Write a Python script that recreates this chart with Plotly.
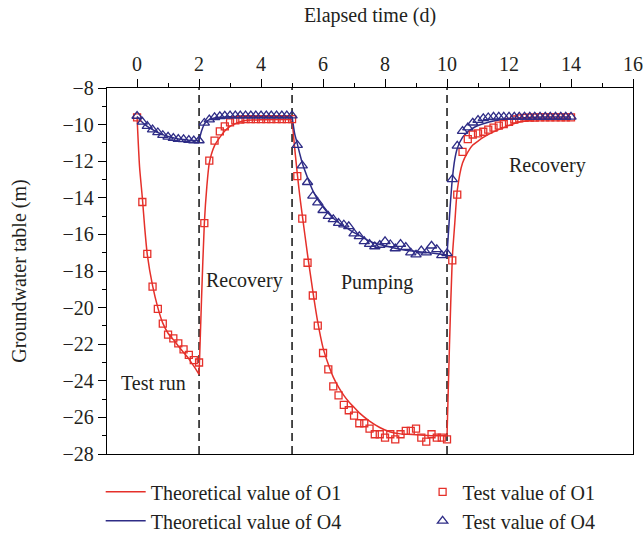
import plotly.graph_objects as go

# ---------------- data ----------------
test_time = [0, 0.17, 0.33, 0.5, 0.67, 0.83, 1.0, 1.17, 1.33, 1.5, 1.67, 1.83, 2.0,
             2.17, 2.33, 2.5, 2.67, 2.83, 3.0, 3.17, 3.33, 3.5, 3.67, 3.83, 4.0, 4.17, 4.33, 4.5, 4.67, 4.83, 5.0,
             5.17, 5.33, 5.5, 5.67, 5.83, 6.0, 6.17, 6.33, 6.5, 6.67, 6.83, 7.0, 7.17, 7.33, 7.5, 7.67, 7.83,
             8.0, 8.17, 8.33, 8.5, 8.67, 8.83, 9.0, 9.17, 9.33, 9.5, 9.67, 9.83, 10.0,
             10.17, 10.33, 10.5, 10.67, 10.83, 11.0, 11.17, 11.33, 11.5, 11.67, 11.83, 12.0, 12.17, 12.33,
             12.5, 12.67, 12.83, 13.0, 13.17, 13.33, 13.5, 13.67, 13.83, 14.0]

test_o1 = [-9.6, -14.23, -17.06, -18.85, -20.07, -20.88, -21.48, -21.68, -21.95, -22.28, -22.58, -22.87, -23.0,
           -15.38, -11.97, -10.88, -10.37, -10.10, -9.88, -9.77, -9.72, -9.70, -9.70, -9.70, -9.70, -9.70,
           -9.70, -9.70, -9.70, -9.70, -9.70,
           -12.82, -15.14, -17.55, -19.34, -20.99, -22.48, -23.38, -24.31, -24.80, -25.32, -25.61, -25.90,
           -26.32, -26.32, -26.61, -26.92, -26.92, -27.1, -26.92, -27.2, -26.92, -26.74, -26.74, -26.61,
           -27.1, -27.32, -26.92, -27.1, -27.1, -27.2,
           -17.42, -13.83, -11.49, -10.79, -10.54, -10.48, -10.39, -10.28, -10.17, -10.06, -9.97, -9.85,
           -9.72, -9.66, -9.63, -9.62, -9.62, -9.61, -9.61, -9.6, -9.6, -9.6, -9.6, -9.6]

test_o4 = [-9.53, -9.85, -10.08, -10.27, -10.43, -10.58, -10.67, -10.74, -10.79, -10.81, -10.85, -10.87, -10.87,
           -9.91, -9.73, -9.6, -9.55, -9.52, -9.51, -9.51, -9.51, -9.51, -9.51, -9.51, -9.51, -9.51, -9.51,
           -9.51, -9.51, -9.51, -9.51,
           -11.12, -12.24, -13.15, -13.90, -14.26, -14.68, -15.0, -15.18, -15.38, -15.47, -15.56, -15.96,
           -16.11, -16.38, -16.53, -16.66, -16.58, -16.38, -16.55, -16.77, -16.53, -16.69, -17.0, -17.11,
           -16.89, -17.0, -16.62, -16.82, -17.15, -17.04,
           -12.99, -11.16, -10.36, -10.16, -9.9, -9.75, -9.66, -9.61, -9.58, -9.58, -9.58, -9.58, -9.58,
           -9.58, -9.58, -9.58, -9.58, -9.58, -9.58, -9.58, -9.58, -9.58, -9.58, -9.58]

theory_time = [0, 0.08, 0.17, 0.25, 0.33, 0.5, 0.67, 0.83, 1.0, 1.17, 1.33, 1.5, 1.67, 1.83, 2.0,
               2.08, 2.17, 2.25, 2.33, 2.5, 2.67, 2.83, 3.0, 3.17, 3.33, 3.5, 4.0, 4.5, 5.0,
               5.08, 5.17, 5.25, 5.33, 5.5, 5.67, 5.83, 6.0, 6.17, 6.33, 6.5, 6.67, 6.83, 7.0, 7.17,
               7.5, 7.83, 8.17, 8.5, 9.0, 9.5, 10.0,
               10.08, 10.17, 10.25, 10.33, 10.5, 10.67, 10.83, 11.0, 11.17, 11.5, 11.83, 12.17, 12.5,
               12.83, 13.33, 14.0]

theory_o1 = [-9.6, -12.3, -14.0, -15.7, -17.1, -18.8, -20.0, -20.85, -21.4, -21.75, -22.1, -22.45, -22.8, -23.2, -23.65,
             -19.5, -15.4, -13.4, -12.1, -11.15, -10.7, -10.35, -10.1, -9.95, -9.84, -9.78, -9.73, -9.72, -9.72,
             -11.2, -12.7, -13.9, -14.95, -17.1, -19.1, -20.8, -22.2, -23.1, -23.8, -24.35, -24.8, -25.15,
             -25.45, -25.75, -26.2, -26.55, -26.8, -26.9, -26.95, -27.0, -27.0,
             -22.0, -17.3, -15.4, -13.6, -12.1, -11.5, -11.12, -10.9, -10.7, -10.4, -10.16, -9.94, -9.8,
             -9.73, -9.7, -9.7]

theory_o4 = [-9.55, -9.72, -9.87, -9.99, -10.1, -10.28, -10.43, -10.55, -10.65, -10.72, -10.78, -10.82, -10.85, -10.87, -10.88,
             -10.35, -9.97, -9.82, -9.73, -9.64, -9.6, -9.58, -9.57, -9.56, -9.56, -9.55, -9.55, -9.55, -9.55,
             -10.45, -11.05, -11.6, -12.1, -12.9, -13.6, -14.1, -14.5, -14.85, -15.12, -15.35, -15.55, -15.72,
             -15.9, -16.05, -16.37, -16.55, -16.69, -16.82, -16.93, -17.02, -17.12,
             -15.0, -13.0, -11.9, -11.3, -10.7, -10.4, -10.2, -10.05, -9.95, -9.8, -9.72, -9.66, -9.62,
             -9.6, -9.58, -9.58]

phase_bounds = [0, 2, 5, 10, 14]
phase_labels = ["Test run", "Recovery", "Pumping", "Recovery"]
label_x = [0.52, 3.45, 7.74, 13.23]
label_y = [-24.1, -18.5, -18.65, -12.25]

series_names = ["Theoretical value of O1", "Theoretical value of O4",
                "Test value of O1", "Test value of O4"]

# ---------------- style ----------------
RED = "#E5302A"
NAVY = "#2E2C86"
FONT = "Liberation Serif"
TXT = "#231F20"

fig = go.Figure()

def add_theory(vals, name, color):
    for i in range(len(phase_bounds) - 1):
        a, b = phase_bounds[i], phase_bounds[i + 1]
        xs = [t for t in theory_time if a <= t <= b]
        ys = [v for t, v in zip(theory_time, vals) if a <= t <= b]
        fig.add_trace(go.Scatter(
            x=xs, y=ys, mode="lines", name=name, legendgroup=name,
            showlegend=(i == 0), legend="legend",
            line=dict(color=color, width=1.5, shape="spline", smoothing=0.6),
        ))

add_theory(theory_o1, series_names[0], RED)
add_theory(theory_o4, series_names[1], NAVY)

fig.add_trace(go.Scatter(
    x=test_time, y=test_o1, mode="markers", name=series_names[2], legend="legend2",
    marker=dict(symbol="square-open", size=7, color=RED, line=dict(width=1.3, color=RED)),
))
fig.add_trace(go.Scatter(
    x=test_time, y=test_o4, mode="markers", name=series_names[3], legend="legend2",
    marker=dict(symbol="triangle-up-open", size=9, color=NAVY, line=dict(width=1.3, color=NAVY)),
))

for b in phase_bounds[1:-1]:
    fig.add_shape(type="line", x0=b, x1=b, xref="x", y0=0, y1=1, yref="paper",
                  line=dict(color="black", width=1.4, dash="8px,5px"), layer="below")

for txt, x, y in zip(phase_labels, label_x, label_y):
    fig.add_annotation(x=x, y=y, text=txt, showarrow=False,
                       font=dict(family=FONT, size=20, color=TXT))

fig.update_layout(
    width=643, height=533,
    margin=dict(l=107, r=10, t=88, b=79, autoexpand=False),
    paper_bgcolor="white", plot_bgcolor="white",
    font=dict(family=FONT, size=20, color=TXT),
    legend=dict(x=-0.012, y=-0.05, xanchor="left", yanchor="top", itemwidth=40,
                font=dict(family=FONT, size=20, color=TXT),
                bgcolor="rgba(0,0,0,0)", tracegroupgap=0),
    legend2=dict(x=0.6, y=-0.05, xanchor="left", yanchor="top",
                 font=dict(family=FONT, size=20, color=TXT),
                 bgcolor="rgba(0,0,0,0)", tracegroupgap=0),
)

fig.update_xaxes(
    side="top", range=[-0.97, 16], tickmode="linear", tick0=0, dtick=2,
    ticks="outside", ticklen=8, tickwidth=1.2, tickcolor="black",
    minor=dict(dtick=1, tick0=0, ticks="outside", ticklen=4, tickwidth=1.2, tickcolor="black"),
    showline=True, linecolor="black", linewidth=1.3, mirror=True,
    showgrid=False, zeroline=False,
    title=dict(text="Elapsed time (d)", font=dict(family=FONT, size=20, color=TXT), standoff=24),
    tickfont=dict(family=FONT, size=20, color=TXT),
)
fig.update_yaxes(
    range=[-28, -8], tickmode="linear", tick0=-28, dtick=2,
    ticks="outside", ticklen=8, tickwidth=1.2, tickcolor="black",
    minor=dict(dtick=1, tick0=-28, ticks="outside", ticklen=4, tickwidth=1.2, tickcolor="black"),
    showline=True, linecolor="black", linewidth=1.3, mirror=True,
    showgrid=False, zeroline=False,
    title=dict(text="Groundwater table (m)", font=dict(family=FONT, size=20, color=TXT), standoff=30),
    tickfont=dict(family=FONT, size=20, color=TXT),
)

fig.write_html("out.html")
